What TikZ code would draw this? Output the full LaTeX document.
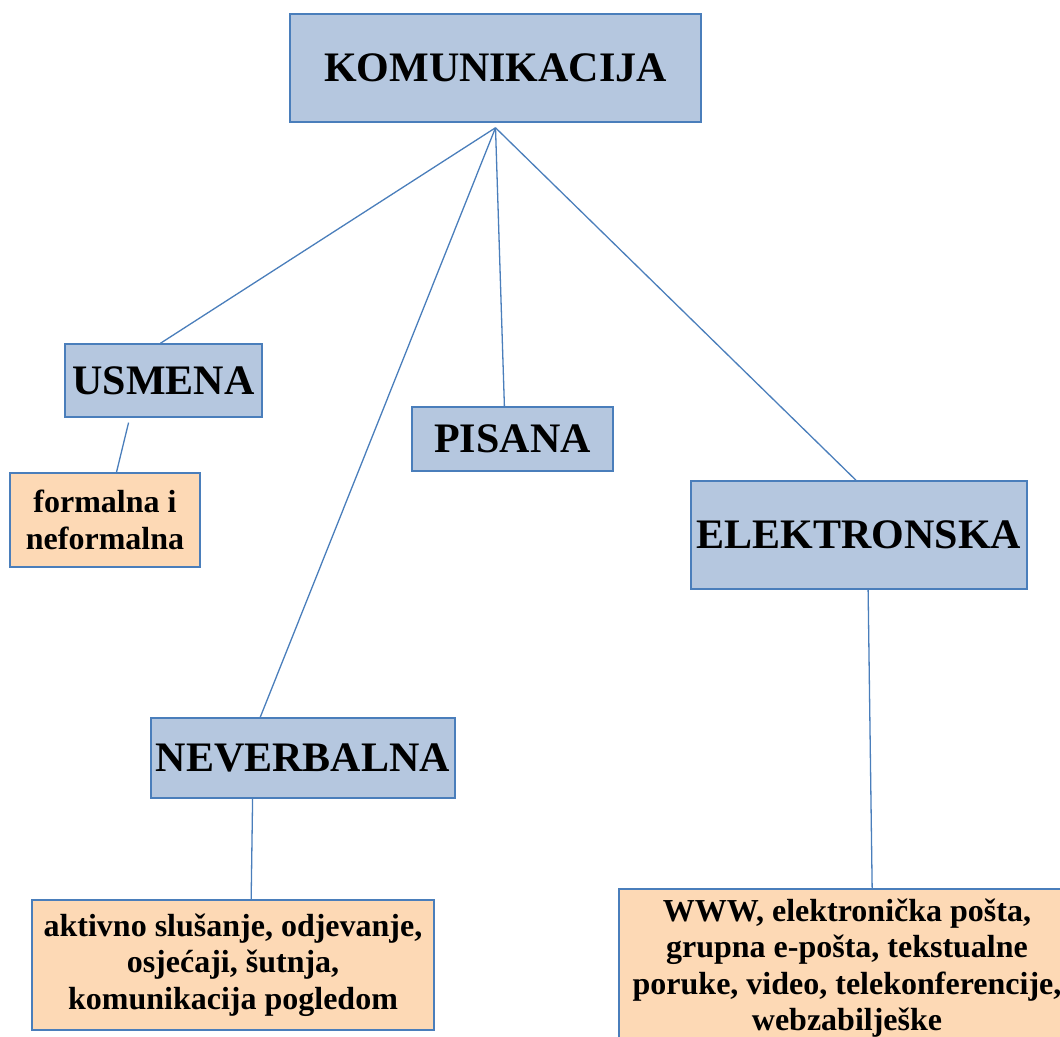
\documentclass[tikz,border=0pt]{standalone}
\usepackage{fontspec}
\setmainfont{Liberation Serif}
\usetikzlibrary{calc}

\definecolor{boxblue}{HTML}{B5C7DF}
\definecolor{boxpeach}{HTML}{FDD9B5}
\definecolor{edgeblue}{HTML}{4A7EBB}

\tikzset{
    mainbox/.style={draw=edgeblue, line width=1.5pt, fill=boxblue, inner sep=0pt,
        font=\bfseries\fontsize{42}{46}\selectfont},
    itembox/.style={draw=edgeblue, line width=1.5pt, fill=boxpeach, inner sep=0pt,
        align=center, font=\bfseries\fontsize{32}{36.5}\selectfont},
    link/.style={draw=edgeblue, line width=1.3pt}
}

\begin{document}
\begin{tikzpicture}[x=1pt, y=-1pt]
    \useasboundingbox (0,0) rectangle (1060,1036);
    \clip (0,0) rectangle (1060,1036);

    % Draw the category boxes
    \node[mainbox, minimum width=411pt, minimum height=108pt] (kom) at (495.5,68) {KOMUNIKACIJA};
    \node[mainbox, minimum width=197pt, minimum height=73pt] (usmena) at (163.5,380.5) {USMENA};
    \node[mainbox, minimum width=201pt, minimum height=64pt] (pisana) at (512.5,439) {PISANA};
    \node[mainbox, minimum width=336pt, minimum height=108pt] (elektr) at (859,535) {ELEKTRONSKA};
    \node[mainbox, minimum width=304pt, minimum height=80pt] (neverb) at (303,758) {NEVERBALNA};

    % Draw the example boxes
    \node[itembox, minimum width=190pt, minimum height=94pt] (formal) at (105,520)
        {formalna i\\neformalna};
    \node[itembox, minimum width=402pt, minimum height=130pt] (aktiv) at (233,965)
        {aktivno slušanje, odjevanje,\\osjećaji, šutnja,\\komunikacija pogledom};
    \node[itembox, minimum width=456pt, minimum height=158pt] (www) at (847,968)
        {WWW, elektronička pošta,\\grupna e-pošta, tekstualne\\poruke, video, telekonferencije,\\webzabilješke};

    % Draw the lines from the top box
    \coordinate (hub) at ($(kom.south)+(0,5)$);
    \draw[link] (hub) -- ($(usmena.north)+(-3,0)$);
    \draw[link] (hub) -- ($(neverb.north west)!0.36!(neverb.north east)$);
    \draw[link] (hub) -- ($(pisana.north west)!0.46!(pisana.north east)$);
    \draw[link] (hub) -- ($(elektr.north)+(-3,0)$);

    % Draw the lines down to the examples
    \draw[link, shorten <=5pt] ($(usmena.south west)!0.33!(usmena.south east)$)
        -- ($(formal.north west)!0.56!(formal.north east)$);
    \draw[link] ($(neverb.south west)!0.335!(neverb.south east)$)
        -- ($(aktiv.north west)!0.545!(aktiv.north east)$);
    \draw[link] ($(elektr.south west)!0.527!(elektr.south east)$)
        -- ($(www.north west)!0.555!(www.north east)$);

\end{tikzpicture}
\end{document}
